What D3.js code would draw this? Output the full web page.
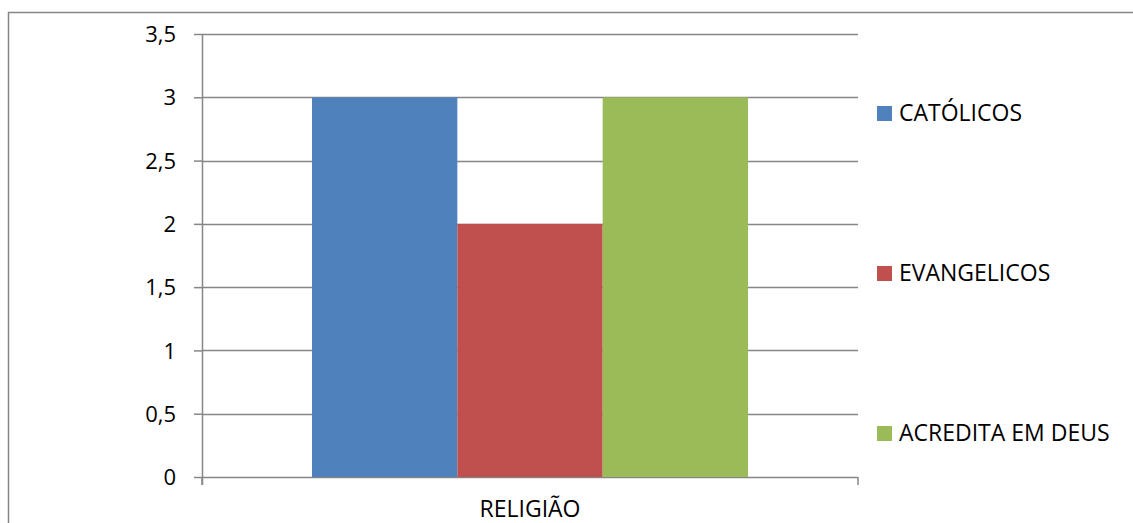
<!DOCTYPE html>
<html lang="pt">
<head>
  <meta charset="UTF-8">
  <title>Religião</title>
  <script src="https://cdnjs.cloudflare.com/ajax/libs/d3/7.8.5/d3.min.js"></script>
  <style>
    body { margin: 0; background: #fff; }
    svg text { font-family: "Open Sans", "Noto Sans", sans-serif; fill: #000; }
  </style>
</head>
<body>
  <div id="chart"></div>
  <script>
    // data
    const categories = ["RELIGIÃO"];
    const seriesNames = ["CATÓLICOS", "EVANGELICOS", "ACREDITA EM DEUS"];
    const seriesValues = [3, 2, 3];
    const seriesColors = ["#4F81BD", "#C0504D", "#9BBB59"];
    const yTicks = [0, 0.5, 1, 1.5, 2, 2.5, 3, 3.5];

    const W = 1133, H = 523;
    const margin = {top: 34, right: 275, bottom: 46, left: 202};
    const width = W - margin.left - margin.right;
    const height = H - margin.top - margin.bottom;

    const svg = d3.select("#chart").append("svg")
      .attr("width", W)
      .attr("height", H);

    // outer chart border (runs off the right and bottom edge)
    svg.append("rect")
      .attr("x", 8.5).attr("y", 12.5)
      .attr("width", W + 20).attr("height", H + 20)
      .attr("fill", "none")
      .attr("stroke", "#868686")
      .attr("stroke-width", 1.5);

    const g = svg.append("g")
      .attr("transform", `translate(${margin.left},${margin.top})`);

    const y = d3.scaleLinear().domain([0, 3.5]).range([height, 0]);
    const x = d3.scaleBand().domain(categories).range([0, width]);
    // bars sit in the middle of the band, gaps of ~110px each side
    const xs = d3.scaleBand().domain(seriesNames)
      .range([0, x.bandwidth()])
      .paddingOuter(0.757).paddingInner(0);

    // gridlines
    g.append("g")
      .selectAll("line")
      .data(yTicks)
      .join("line")
      .attr("x1", 0).attr("x2", width)
      .attr("y1", d => Math.round(y(d)) + 0.5)
      .attr("y2", d => Math.round(y(d)) + 0.5)
      .attr("stroke", "#868686")
      .attr("stroke-width", 1.5);

    // bars
    g.append("g")
      .selectAll("rect")
      .data(seriesNames.map((s, i) => ({name: s, value: seriesValues[i], color: seriesColors[i]})))
      .join("rect")
      .attr("x", d => x(categories[0]) + xs(d.name))
      .attr("width", xs.bandwidth())
      .attr("y", d => y(d.value))
      .attr("height", d => height - y(d.value))
      .attr("fill", d => d.color);

    // y axis
    const yAxis = g.append("g")
      .call(d3.axisLeft(y).tickValues(yTicks).tickSize(8).tickPadding(18)
        .tickFormat(d => String(d).replace(".", ",")));
    yAxis.select(".domain").remove();
    yAxis.selectAll("line").attr("stroke", "#868686").attr("stroke-width", 1.5);
    yAxis.selectAll("text").style("font-size", "22px").attr("dy", "0.35em");

    g.append("line")
      .attr("x1", 0.5).attr("x2", 0.5)
      .attr("y1", 0).attr("y2", height + 8)
      .attr("stroke", "#868686").attr("stroke-width", 1.5);

    // x axis
    const xAxis = g.append("g")
      .attr("transform", `translate(0,${height})`)
      .call(d3.axisBottom(x).tickSize(0).tickPadding(24));
    xAxis.select(".domain").remove();
    xAxis.selectAll("text").style("font-size", "23px");

    // category boundary ticks
    g.append("g")
      .selectAll("line")
      .data([0, width])
      .join("line")
      .attr("x1", d => d).attr("x2", d => d)
      .attr("y1", height).attr("y2", height + 8)
      .attr("stroke", "#868686").attr("stroke-width", 1.5);

    // legend
    const legendY = d3.scalePoint().domain(seriesNames).range([113, 433]);
    const legend = svg.append("g")
      .selectAll("g")
      .data(seriesNames)
      .join("g")
      .attr("transform", d => `translate(877,${legendY(d)})`);
    legend.append("rect")
      .attr("x", 0).attr("y", -7)
      .attr("width", 15).attr("height", 15)
      .attr("fill", (d, i) => seriesColors[i]);
    legend.append("text")
      .attr("x", 22).attr("dy", "0.35em")
      .style("font-size", "23px")
      .text(d => d);
  </script>
</body>
</html>
